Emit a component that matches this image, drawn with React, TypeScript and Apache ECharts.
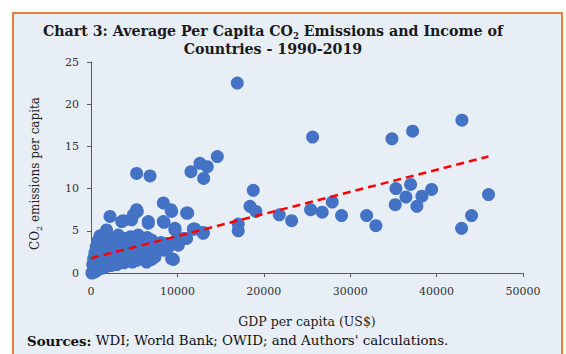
import React, { useEffect, useRef } from "react";
import * as echarts from "echarts";

// GDP per capita (US$), CO2 per capita (tonnes)
const lowIncomeCountries: [number, number][] = [
  [100, 0.0], [250, 0.3], [400, 0.1], [500, 0.6], [700, 0.3], [850, 0.9], [1000, 0.5], [1200, 1.1],
  [1400, 0.6], [1600, 1.4], [1800, 0.8], [2100, 1.2], [2400, 0.9], [2700, 1.4], [3000, 1.0], [3400, 1.3],
  [3800, 1.2], [4300, 1.4], [4800, 1.3], [5300, 1.5], [6000, 1.7], [6440, 1.3], [7020, 1.6], [7400, 1.9],
  [200, 1.0], [300, 1.7], [450, 2.4], [600, 3.1], [800, 3.8], [1040, 4.4], [700, 2.0], [1000, 2.6],
  [1100, 1.8], [1300, 3.0], [1500, 2.2], [1600, 3.6], [1800, 5.1], [1900, 2.8], [2000, 4.2], [2200, 1.9],
  [2400, 3.3], [2600, 2.4], [2800, 4.0], [3000, 2.9], [3160, 4.5], [3300, 2.0], [3500, 3.5], [3700, 2.6],
  [3900, 4.1], [4100, 1.9], [4320, 3.5], [4400, 2.8], [4600, 4.3], [4800, 2.3], [5000, 3.2], [5200, 4.0],
  [5470, 4.5], [5600, 2.7], [5800, 3.6], [6100, 2.3], [6300, 3.2], [6500, 4.2], [6700, 2.8], [7020, 3.9],
  [7200, 2.4], [7500, 3.3], [7800, 2.9], [8100, 3.6], [8400, 2.7], [8760, 3.5], [9000, 3.1], [9330, 1.7],
  [9920, 3.9], [10100, 3.3], [11070, 4.1], [9530, 1.6],
];

const middleIncomeCountries: [number, number][] = [
  [1230, 4.3], [2200, 6.7], [3550, 6.1], [3740, 6.2], [4710, 6.3], [4900, 6.9], [5280, 7.5], [5360, 7.3],
  [6630, 6.1], [6630, 5.9], [8370, 8.3], [9260, 7.5], [9330, 7.3], [8370, 6.1], [8450, 6.0], [11070, 7.1],
  [11190, 7.1], [9720, 5.3], [9720, 5.1], [10680, 4.1], [11840, 5.2], [12030, 5.2], [12990, 4.8], [12990, 4.7],
  [5280, 11.8], [6830, 11.5], [11570, 12.0], [12610, 13.0], [13460, 12.6], [13040, 11.2], [14620, 13.8],
];

const highIncomeCountries: [number, number][] = [
  [16930, 22.5], [18780, 9.8], [18400, 7.9], [19090, 7.3], [21790, 6.9], [23220, 6.2], [17040, 5.8], [17040, 5.0],
  [25650, 16.1], [34830, 15.9], [37220, 16.8], [42930, 18.1], [46010, 9.3], [44050, 6.8], [42890, 5.3],
  [39420, 9.9], [38300, 9.1], [36990, 10.5], [35290, 10.0], [36450, 9.0], [37720, 7.9], [35210, 8.1],
  [32970, 5.6], [31900, 6.8], [29000, 6.8], [27920, 8.4], [26760, 7.2], [25420, 7.5],
];

const trendLine: [number, number][] = [
  [0, 1.75],
  [46000, 13.8],
];

const xTicks = { min: 0, max: 50000, interval: 10000 };
const yTicks = { min: 0, max: 25, interval: 5 };

const serif = "DejaVu Serif";

export default function App() {
  const ref = useRef<HTMLDivElement>(null);

  useEffect(() => {
    if (!ref.current) return;
    const chart = echarts.init(ref.current, undefined, { renderer: "svg" });
    const allPoints = [...lowIncomeCountries, ...middleIncomeCountries, ...highIncomeCountries];
    chart.setOption({
      animation: false,
      backgroundColor: "#ffffff",
      graphic: [
        {
          type: "rect",
          z: -10,
          shape: { x: 13, y: 13, width: 549, height: 350 },
          style: { fill: "#E8EEF6", stroke: "#ED7D31", lineWidth: 2 },
        },
        {
          type: "text",
          left: 27,
          top: 334,
          style: {
            text: "{b|Sources:} WDI; World Bank; OWID; and Authors' calculations.",
            font: `13.4px "${serif}"`,
            fill: "#111",
            rich: {
              b: { fontWeight: "bold", fontFamily: serif, fontSize: 13.4, fill: "#111" },
            },
          },
        },
      ],
      title: {
        text: "Chart 3: Average Per Capita CO{sub|2} Emissions and Income of\nCountries - 1990-2019",
        left: 268,
        textAlign: "center",
        top: 17,
        textStyle: {
          fontFamily: serif,
          fontWeight: "bold",
          fontSize: 14.2,
          color: "#1a1a1a",
          lineHeight: 18,
          rich: {
            sub: { fontFamily: serif, fontWeight: "bold", fontSize: 8.5, verticalAlign: "bottom", lineHeight: 12, color: "#1a1a1a" },
          },
        },
      },
      grid: { left: 91, right: 43, top: 62, bottom: 81, containLabel: false },
      xAxis: {
        type: "value",
        min: xTicks.min,
        max: xTicks.max,
        interval: xTicks.interval,
        name: "GDP per capita (US$)",
        nameLocation: "middle",
        nameGap: 42,
        nameTextStyle: { fontFamily: serif, fontSize: 12.5, color: "#222" },
        axisLine: { show: true, onZero: false, lineStyle: { color: "#595959", width: 1 } },
        axisTick: { show: true, length: 4, lineStyle: { color: "#595959" } },
        axisLabel: {
          fontFamily: serif,
          fontSize: 11,
          color: "#333",
          margin: 13,
          formatter: (v: number) => String(v),
        },
        splitLine: { show: false },
      },
      yAxis: {
        type: "value",
        min: yTicks.min,
        max: yTicks.max,
        interval: yTicks.interval,
        name: "CO{sub|2} emissions per capita",
        nameLocation: "middle",
        nameGap: 48,
        nameTextStyle: {
          fontFamily: serif,
          fontSize: 12,
          color: "#222",
          lineHeight: 16,
          padding: [0, 12, 0, 0],
          rich: {
            sub: { fontFamily: serif, fontSize: 8, verticalAlign: "bottom", lineHeight: 10, color: "#222" },
          },
        },
        axisLine: { show: true, onZero: false, lineStyle: { color: "#595959", width: 1 } },
        axisTick: { show: true, length: 4, lineStyle: { color: "#595959" } },
        axisLabel: { fontFamily: serif, fontSize: 11, color: "#333", margin: 12 },
        splitLine: { show: false },
      },
      series: [
        {
          type: "scatter",
          data: allPoints,
          symbol: "circle",
          symbolSize: 13,
          itemStyle: { color: "#4472C4", opacity: 1 },
          z: 2,
        },
        {
          type: "line",
          data: trendLine,
          showSymbol: false,
          symbol: "none",
          lineStyle: { color: "#FF0000", width: 2.5, type: [8, 5] },
          z: 3,
        },
      ],
    });
    return () => chart.dispose();
  }, []);

  return (
    <div
      ref={ref}
      style={{ position: "absolute", left: 0, top: 0, width: 566, height: 354 }}
    />
  );
}
